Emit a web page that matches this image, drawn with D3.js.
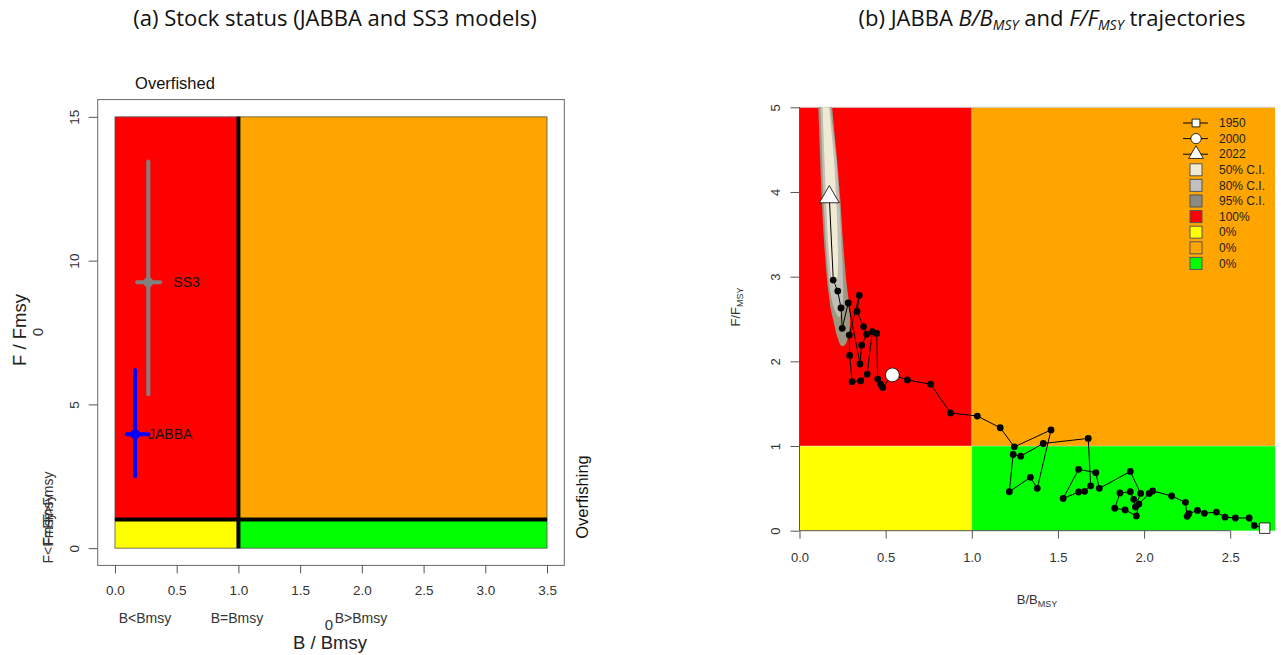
<!DOCTYPE html>
<html>
<head>
<meta charset="utf-8">
<script src="https://cdn.jsdelivr.net/npm/d3@7"></script>
<style>
  body { margin: 0; background: #fff; }
  svg { display: block; font-family: "Liberation Sans", Arial, sans-serif; }
  .title { font-family: "Open Sans", sans-serif; font-size: 22px; fill: #111; }
</style>
</head>
<body>
<svg id="chart" width="1281" height="655"></svg>
<script>
// ---- panel (a): stock status ----
const zonesA = [
  { b0: 0, b1: 1, f0: 1, f1: 15, fill: "#ff0000" },
  { b0: 1, b1: 3.5, f0: 1, f1: 15, fill: "#ffa500" },
  { b0: 0, b1: 1, f0: 0, f1: 1, fill: "#ffff00" },
  { b0: 1, b1: 3.5, f0: 0, f1: 1, fill: "#00ff00" }
];
const models = ["SS3", "JABBA"];
const modelColors = ["#808080", "#0000ff"];
const modelB = [0.27, 0.162];
const modelF = [9.25, 3.96];
const modelBlo = [0.18, 0.095];
const modelBhi = [0.365, 0.27];
const modelFlo = [5.35, 2.5];
const modelFhi = [13.45, 6.2];
const ticksBA = [0, 0.5, 1, 1.5, 2, 2.5, 3, 3.5];
const ticksFA = [0, 5, 10, 15];

// ---- panel (b): JABBA trajectory 1950-2022 ----
const trajB = [2.70, 2.64, 2.61, 2.53, 2.47, 2.42, 2.35, 2.31, 2.26, 2.25, 2.24, 2.16, 2.05, 2.03,
  1.97, 1.955, 1.89, 1.83, 1.86, 1.92, 1.94, 1.95, 1.98, 1.92, 1.74, 1.72, 1.62, 1.53, 1.62,
  1.655, 1.69, 1.676, 1.415, 1.284, 1.24, 1.218, 1.34, 1.38, 1.46, 1.247, 1.165, 1.032, 0.877,
  0.761, 0.626, 0.539, 0.483, 0.471, 0.454, 0.448, 0.4225, 0.393, 0.355, 0.305, 0.291, 0.289,
  0.347, 0.334, 0.372, 0.39, 0.361, 0.351, 0.283, 0.248, 0.241, 0.222, 0.196, 0.173];
const trajF = [0.03, 0.06, 0.15, 0.15, 0.16, 0.22, 0.205, 0.24, 0.20, 0.17, 0.335, 0.41, 0.47, 0.44,
  0.315, 0.175, 0.245, 0.265, 0.445, 0.46, 0.37, 0.28, 0.44, 0.70, 0.50, 0.685, 0.725, 0.38, 0.457,
  0.465, 0.53, 1.09, 1.03, 0.88, 0.90, 0.46, 0.63, 0.50, 1.19, 0.99, 1.216, 1.354, 1.39,
  1.73, 1.78, 1.84, 1.69, 1.73, 1.79, 2.33, 2.35, 1.85, 1.77, 1.76, 2.07, 2.31,
  2.78, 2.59, 2.41, 2.32, 2.19, 1.97, 2.69, 2.39, 2.63, 2.83, 2.96, 3.94];
const markYears = ["1950", "2000", "2022"];
const markIndex = [0, 45, 67];
const markShape = ["square", "circle", "triangle"];

// credible regions of the 2022 estimate, [B, F] outlines
const ci95 = [[0.10, 5.4], [0.109, 5.0], [0.129, 3.94], [0.142, 3.43], [0.160, 2.96], [0.172, 2.76],
  [0.18, 2.63], [0.2, 2.45], [0.216, 2.31], [0.236, 2.2], [0.254, 2.18], [0.272, 2.22],
  [0.29, 2.36], [0.292, 2.6], [0.271, 2.96], [0.252, 3.43], [0.236, 3.94], [0.213, 4.49],
  [0.19, 5.0], [0.183, 5.4]];
const ci80 = [[0.114, 5.4], [0.122, 5.0], [0.14, 3.94], [0.152, 3.43], [0.17, 2.96], [0.19, 2.7],
  [0.21, 2.58], [0.23, 2.52], [0.248, 2.6], [0.255, 2.8], [0.248, 3.2],
  [0.234, 3.8], [0.214, 4.4], [0.18, 5.0], [0.174, 5.4]];
const ci50 = [[0.13, 5.4], [0.134, 5.0], [0.154, 3.94], [0.166, 3.4], [0.184, 3.0], [0.2, 2.9],
  [0.218, 2.95], [0.224, 3.2], [0.216, 3.8], [0.2, 4.4], [0.172, 5.0], [0.166, 5.4]];
const ciColors = ["#9c9882", "#c0bfb8", "#f1ead3"];

const legendLabels = ["1950", "2000", "2022", "50% C.I.", "80% C.I.", "95% C.I.", "100%", "0%", "0%", "0%"];
const legendFills = ["#f1ead3", "#c0c0c0", "#8c8b82", "#ff0000", "#ffff00", "#ffa500", "#00ff00"];
const ticksBB = [0, 0.5, 1, 1.5, 2, 2.5];
const ticksFB = [0, 1, 2, 3, 4, 5];

const svg = d3.select("#chart");

// ================= panel (a) =================
const xA = d3.scaleLinear().domain([-0.14, 3.64]).range([97.7, 564.3]);
const yA = d3.scaleLinear().domain([-0.6, 15.6]).range([565.4, 99.6]);
const gA = svg.append("g");

gA.append("text").attr("class", "title")
  .attr("x", 335).attr("y", 26).attr("text-anchor", "middle")
  .text("(a) Stock status (JABBA and SS3 models)");

gA.selectAll("rect.zone").data(zonesA).join("rect")
  .attr("class", "zone")
  .attr("x", d => xA(d.b0)).attr("y", d => yA(d.f1))
  .attr("width", d => xA(d.b1) - xA(d.b0)).attr("height", d => yA(d.f0) - yA(d.f1))
  .attr("fill", d => d.fill).attr("stroke", "#555").attr("stroke-width", 0.8);

gA.append("line")
  .attr("x1", xA(1)).attr("x2", xA(1)).attr("y1", yA(0)).attr("y2", yA(15))
  .attr("stroke", "#000").attr("stroke-width", 4);
gA.append("line")
  .attr("x1", xA(0)).attr("x2", xA(3.5)).attr("y1", yA(1)).attr("y2", yA(1))
  .attr("stroke", "#000").attr("stroke-width", 4);

gA.append("rect")
  .attr("x", 97.7).attr("y", 99.6).attr("width", 564.3 - 97.7).attr("height", 565.4 - 99.6)
  .attr("fill", "none").attr("stroke", "#666").attr("stroke-width", 1);

const axA = gA.append("g").attr("transform", "translate(0,565.4)")
  .call(d3.axisBottom(xA).tickValues(ticksBA).tickFormat(d3.format(".1f")).tickSize(8).tickPadding(12));
axA.select(".domain").remove();
axA.selectAll("line").attr("stroke", "#555");
axA.selectAll("text").attr("font-size", 13.5).attr("fill", "#333").attr("font-family", "Liberation Sans, Arial");

const ayA = gA.append("g").attr("transform", "translate(97.7,0)")
  .call(d3.axisLeft(yA).tickValues(ticksFA).tickSize(9));
ayA.select(".domain").remove();
ayA.selectAll("line").attr("stroke", "#555");
ayA.selectAll("text").attr("font-size", 13.5).attr("fill", "#333").attr("font-family", "Liberation Sans, Arial")
  .attr("x", 0).attr("transform", "translate(-23,0) rotate(-90)").attr("text-anchor", "middle").attr("dy", "0.32em");

// model estimates with CIs
const mg = gA.selectAll("g.model").data(models).join("g").attr("class", "model");
mg.append("line")
  .attr("x1", (d, i) => xA(modelB[i])).attr("x2", (d, i) => xA(modelB[i]))
  .attr("y1", (d, i) => yA(modelFlo[i])).attr("y2", (d, i) => yA(modelFhi[i]))
  .attr("stroke", (d, i) => modelColors[i]).attr("stroke-width", 4).attr("stroke-linecap", "round");
mg.append("line")
  .attr("x1", (d, i) => xA(modelBlo[i])).attr("x2", (d, i) => xA(modelBhi[i]))
  .attr("y1", (d, i) => yA(modelF[i])).attr("y2", (d, i) => yA(modelF[i]))
  .attr("stroke", (d, i) => modelColors[i]).attr("stroke-width", 4).attr("stroke-linecap", "round");
mg.append("circle")
  .attr("cx", (d, i) => xA(modelB[i])).attr("cy", (d, i) => yA(modelF[i])).attr("r", 5)
  .attr("fill", (d, i) => modelColors[i]);
mg.append("text")
  .attr("x", (d, i) => xA(modelB[i]) + (i === 0 ? 25 : 13)).attr("y", (d, i) => yA(modelF[i]))
  .attr("dy", "0.35em").attr("font-size", 14).attr("fill", "#111")
  .text(d => d);

// status annotations
gA.append("text").attr("x", 175).attr("y", 89).attr("text-anchor", "middle")
  .attr("font-size", 16.5).attr("fill", "#111").text("Overfished");
gA.append("text").attr("transform", "translate(588,497) rotate(-90)").attr("text-anchor", "middle")
  .attr("font-size", 16.5).attr("fill", "#111").text("Overfishing");
const bLab = [["B<Bmsy", 145], ["B=Bmsy", 237], ["B>Bmsy", 361]];
gA.selectAll("text.blab").data(bLab).join("text").attr("class", "blab")
  .attr("x", d => d[1]).attr("y", 623).attr("text-anchor", "middle")
  .attr("font-size", 14).attr("fill", "#333").text(d => d[0]);
const fLab = [["F<Fmsy", 538], ["F=Fmsy", 520], ["F>Fmsy", 497]];
gA.selectAll("text.flab").data(fLab).join("text").attr("class", "flab")
  .attr("transform", d => `translate(53,${d[1]}) rotate(-90)`).attr("text-anchor", "middle")
  .attr("font-size", 14).attr("fill", "#333").text(d => d[0]);
gA.append("text").attr("x", 329).attr("y", 630).attr("text-anchor", "middle")
  .attr("font-size", 15).attr("fill", "#333").text("0");
gA.append("text").attr("transform", "translate(43,332) rotate(-90)").attr("text-anchor", "middle")
  .attr("font-size", 15).attr("fill", "#333").text("0");
gA.append("text").attr("x", 330).attr("y", 649).attr("text-anchor", "middle")
  .attr("font-size", 18.5).attr("fill", "#222").text("B / Bmsy");
gA.append("text").attr("transform", "translate(26,330) rotate(-90)").attr("text-anchor", "middle")
  .attr("font-size", 18.5).attr("fill", "#222").text("F / Fmsy");

// ================= panel (b) =================
const xB = d3.scaleLinear().domain([0, 2.76]).range([799.5, 1275]);
const yB = d3.scaleLinear().domain([0, 5]).range([530.7, 107.3]);
const gB = svg.append("g");

const tb = gB.append("text").attr("class", "title")
  .attr("x", 1052).attr("y", 26).attr("text-anchor", "middle");
tb.append("tspan").text("(b) JABBA ");
tb.append("tspan").attr("font-style", "italic").text("B/B");
tb.append("tspan").attr("font-style", "italic").attr("font-size", 14).attr("dy", 4).text("MSY");
tb.append("tspan").attr("dy", -4).text(" and ");
tb.append("tspan").attr("font-style", "italic").text("F/F");
tb.append("tspan").attr("font-style", "italic").attr("font-size", 14).attr("dy", 4).text("MSY");
tb.append("tspan").attr("dy", -4).text(" trajectories");

const zonesB = zonesA.map(z => ({ b0: z.b0, b1: Math.min(z.b1, 2.76), f0: z.f0, f1: Math.min(z.f1, 5), fill: z.fill }));
gB.selectAll("rect.zone").data(zonesB).join("rect")
  .attr("class", "zone")
  .attr("x", d => xB(d.b0)).attr("y", d => yB(d.f1))
  .attr("width", d => xB(d.b1) - xB(d.b0)).attr("height", d => yB(d.f0) - yB(d.f1))
  .attr("fill", d => d.fill);
gB.append("line").attr("x1", xB(1)).attr("x2", xB(1)).attr("y1", yB(0)).attr("y2", yB(5))
  .attr("stroke", "#ddd").attr("stroke-width", 1).attr("stroke-dasharray", "1,1");
gB.append("line").attr("x1", xB(0)).attr("x2", xB(2.76)).attr("y1", yB(1)).attr("y2", yB(1))
  .attr("stroke", "#ddd").attr("stroke-width", 1).attr("stroke-dasharray", "1,1");
gB.append("line").attr("x1", xB(0)).attr("x2", xB(2.76)).attr("y1", yB(5)).attr("y2", yB(5))
  .attr("stroke", "#ccc").attr("stroke-width", 1);

// credible regions, clipped to plot
gB.append("clipPath").attr("id", "clipB").append("rect")
  .attr("x", xB(0)).attr("y", yB(5)).attr("width", xB(2.76) - xB(0)).attr("height", yB(0) - yB(5));
const area = d3.line().x(d => xB(d[0])).y(d => yB(d[1])).curve(d3.curveCardinalClosed.tension(0.3));
gB.append("g").attr("clip-path", "url(#clipB)")
  .selectAll("path").data([ci95, ci80, ci50]).join("path")
  .attr("d", area).attr("fill", (d, i) => ciColors[i]);

// trajectory
const traj = trajB.map((b, i) => [b, trajF[i]]);
gB.append("path").datum(traj)
  .attr("d", d3.line().x(d => xB(d[0])).y(d => yB(d[1])))
  .attr("fill", "none").attr("stroke", "#000").attr("stroke-width", 1);
gB.selectAll("circle.pt").data(traj.filter((d, i) => !markIndex.includes(i))).join("circle")
  .attr("class", "pt").attr("cx", d => xB(d[0])).attr("cy", d => yB(d[1])).attr("r", 3.4)
  .attr("fill", "#000");

const symbol = (shape, size) => d3.symbol()
  .type(shape === "square" ? d3.symbolSquare : shape === "circle" ? d3.symbolCircle : d3.symbolTriangle)
  .size(size)();
const markSize = { square: 110, circle: 150, triangle: 170 };
gB.selectAll("path.mark").data(markIndex).join("path").attr("class", "mark")
  .attr("transform", d => `translate(${xB(trajB[d])},${yB(trajF[d])})`)
  .attr("d", (d, i) => symbol(markShape[i], markSize[markShape[i]]))
  .attr("fill", "#fff").attr("stroke", "#000").attr("stroke-width", 0.8);

// axes
const axB = gB.append("g").attr("transform", `translate(0,${yB(0)})`)
  .call(d3.axisBottom(xB).tickValues(ticksBB).tickFormat(d3.format(".1f")).tickSize(8).tickPadding(14));
axB.select(".domain").attr("d", `M${xB(0)},0H${xB(2.5)}`).attr("stroke", "#555");
axB.selectAll("line").attr("stroke", "#555");
axB.selectAll("text").attr("font-size", 13).attr("fill", "#333").attr("font-family", "Liberation Sans, Arial");

const ayB = gB.append("g").attr("transform", `translate(${xB(0)},0)`)
  .call(d3.axisLeft(yB).tickValues(ticksFB).tickFormat(d3.format("d")).tickSize(9));
ayB.select(".domain").attr("d", `M0,${yB(0)}V${yB(5)}`).attr("stroke", "#555");
ayB.selectAll("line").attr("stroke", "#555");
ayB.selectAll("text").attr("font-size", 13).attr("fill", "#333").attr("font-family", "Liberation Sans, Arial")
  .attr("x", 0).attr("transform", "translate(-24,0) rotate(-90)").attr("text-anchor", "middle").attr("dy", "0.32em");

const xl = gB.append("text").attr("x", 1037).attr("y", 604).attr("text-anchor", "middle")
  .attr("font-size", 13).attr("fill", "#333");
xl.append("tspan").text("B/B");
xl.append("tspan").attr("font-size", 9).attr("dy", 3).text("MSY");
const yl = gB.append("text").attr("transform", "translate(740,307) rotate(-90)").attr("text-anchor", "middle")
  .attr("font-size", 13).attr("fill", "#333");
yl.append("tspan").text("F/F");
yl.append("tspan").attr("font-size", 9).attr("dy", 3).text("MSY");

// legend
const lg = gB.append("g").attr("transform", "translate(1196,123)");
const items = lg.selectAll("g").data(legendLabels).join("g")
  .attr("transform", (d, i) => `translate(0,${i * 15.6})`);
items.append("text").attr("x", 23).attr("dy", "0.35em").attr("font-size", 12).attr("fill", "#222").text(d => d);
items.filter((d, i) => i < 3).append("line").attr("x1", -13).attr("x2", 12)
  .attr("stroke", "#000").attr("stroke-width", 1);
items.filter((d, i) => i < 3).append("path")
  .attr("d", (d, i) => symbol(markShape[i], markSize[markShape[i]] * 0.55))
  .attr("fill", "#fff").attr("stroke", "#000").attr("stroke-width", 0.8);
items.filter((d, i) => i >= 3).append("rect")
  .attr("x", -6).attr("y", -6).attr("width", 12).attr("height", 12)
  .attr("fill", (d, i) => legendFills[i]).attr("stroke", "#555").attr("stroke-width", 1);
</script>
</body>
</html>
